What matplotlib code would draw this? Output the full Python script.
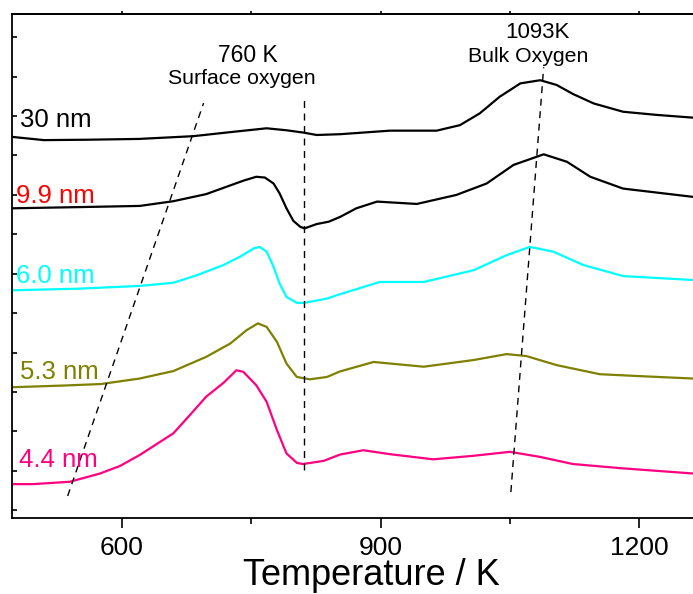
import matplotlib
matplotlib.use("Agg")
import matplotlib.pyplot as plt
from matplotlib.ticker import MultipleLocator

plt.rcParams["font.family"] = ["Liberation Sans", "DejaVu Sans"]

# TPD traces (temperature in K, intensity in arbitrary units, already offset)
t_30 = [474, 510, 560, 620, 683, 729, 768, 791, 811, 826, 853, 911, 965, 992,
        1015, 1038, 1062, 1085, 1104, 1123, 1147, 1181, 1220, 1262]
i_30 = [94.7, 93.9, 94.0, 94.2, 94.9, 96.0, 96.9, 96.4, 95.8, 95.2, 95.4, 96.3,
        96.3, 97.7, 100.7, 104.9, 108.3, 109.1, 107.9, 105.6, 103.2, 101.1,
        100.3, 99.6]

t_99 = [474, 550, 621, 660, 698, 722, 741, 756, 766, 776, 783, 791, 799, 807,
        812, 826, 840, 853, 872, 896, 942, 988, 1023, 1054, 1089, 1116, 1143,
        1181, 1262]
i_99 = [76.6, 76.9, 77.2, 78.4, 80.2, 82.1, 83.6, 84.6, 84.4, 82.9, 80.4, 76.6,
        73.4, 71.9, 71.5, 72.6, 73.2, 74.4, 76.6, 78.3, 77.7, 80.0, 82.9, 87.6,
        90.3, 88.4, 84.6, 81.6, 79.5]

t_60 = [474, 550, 621, 660, 687, 718, 737, 753, 760, 768, 776, 783, 791, 803,
        812, 838, 853, 899, 950, 1008, 1046, 1073, 1100, 1135, 1181, 1262]
i_60 = [55.8, 56.2, 56.9, 57.7, 59.6, 62.2, 64.3, 66.4, 66.8, 65.6, 61.8, 57.5,
        54.1, 52.6, 52.6, 53.7, 54.8, 57.9, 57.9, 60.9, 64.7, 66.8, 65.6, 62.2,
        59.4, 58.4]

t_53 = [474, 530, 576, 621, 660, 698, 726, 745, 758, 768, 780, 791, 803, 818,
        838, 853, 892, 950, 1008, 1046, 1069, 1104, 1154, 1201, 1262]
i_53 = [31.2, 31.6, 32.0, 33.4, 35.3, 38.9, 42.3, 45.7, 47.4, 46.5, 42.7, 37.2,
        33.8, 33.2, 33.8, 35.2, 37.6, 36.4, 38.1, 39.6, 39.1, 36.8, 34.5, 34.0,
        33.4]

t_44 = [474, 497, 540, 575, 598, 621, 660, 679, 698, 718, 733, 741, 756, 768,
        780, 791, 803, 810, 834, 853, 880, 911, 961, 1008, 1050, 1085, 1123,
        1181, 1262]
i_44 = [6.6, 6.6, 7.2, 9.3, 11.2, 14.0, 19.5, 24.1, 28.8, 32.3, 35.5, 35.1,
        31.7, 27.5, 20.3, 14.4, 12.0, 11.7, 12.5, 14.1, 15.2, 14.2, 12.9, 13.8,
        14.8, 13.5, 11.7, 10.6, 9.3]

sizes = ["30 nm", "9.9 nm", "6.0 nm", "5.3 nm", "4.4 nm"]
label_x = [482, 478, 478, 482, 481]
label_y = [97.2, 77.9, 57.6, 33.2, 10.9]
line_colors = ["black", "black", "#00FFFF", "#808000", "#FF0080"]
text_colors = ["black", "#FF0000", "#00FFFF", "#808000", "#FF0080"]

# guide lines through the peaks
guide_onset_t = [537.5, 695]
guide_onset_i = [3.6, 103.3]
guide_surf_t = [811, 811]
guide_surf_i = [10.2, 104.1]
guide_bulk_t = [1051, 1089]
guide_bulk_i = [4.6, 112.4]

fig = plt.figure(figsize=(6.93, 5.94), dpi=100)
ax = fig.add_axes([0.0173, 0.1279, 0.9827, 0.8485])

traces = [(t_30, i_30), (t_99, i_99), (t_60, i_60), (t_53, i_53), (t_44, i_44)]
for (t, i), c in zip(traces, line_colors):
    ax.plot(t, i, color=c, lw=1.6, solid_joinstyle="round")

for name, x, y, c in zip(sizes, label_x, label_y, text_colors):
    ax.text(x, y, name, color=c, fontsize=18.5, ha="left", va="baseline")

for t, i in [(guide_onset_t, guide_onset_i), (guide_surf_t, guide_surf_i),
             (guide_bulk_t, guide_bulk_i)]:
    ax.plot(t, i, color="black", lw=1, ls=(0, (5, 4)))

ax.text(746, 113.7, "760 K", fontsize=16.5, ha="center", va="baseline")
ax.text(739, 108.1, "Surface oxygen", fontsize=15.3, ha="center", va="baseline")
ax.text(1082, 119.8, "1093K", fontsize=16, ha="center", va="baseline")
ax.text(1071, 113.7, "Bulk Oxygen", fontsize=15.3, ha="center", va="baseline")

ax.set_xlim(473, 1262)
ax.set_ylim(-2, 125.9)
ax.xaxis.set_major_locator(MultipleLocator(300))
ax.xaxis.set_minor_locator(MultipleLocator(150))
ax.yaxis.set_major_locator(MultipleLocator(10))
ax.set_yticklabels([])

ax.spines["right"].set_visible(False)
for s in ["left", "top", "bottom"]:
    ax.spines[s].set_linewidth(1.3)

ax.tick_params(axis="x", which="major", direction="out", length=7, width=1.2,
               labelsize=19, pad=6)
ax.tick_params(axis="x", which="minor", direction="out", length=4, width=1.2)
ax.tick_params(axis="y", direction="in", length=3.5, width=1.2)

top = ax.secondary_xaxis("top")
top.xaxis.set_major_locator(MultipleLocator(150))
top.tick_params(direction="out", length=2.5, width=1.2, labeltop=False)
top.spines["top"].set_linewidth(1.3)

ax.set_xlabel("Temperature / K", fontsize=26)
ax.xaxis.label.set_verticalalignment("baseline")
ax.xaxis.set_label_coords(0.527, -0.133)

fig.savefig("out.png", dpi=100)
